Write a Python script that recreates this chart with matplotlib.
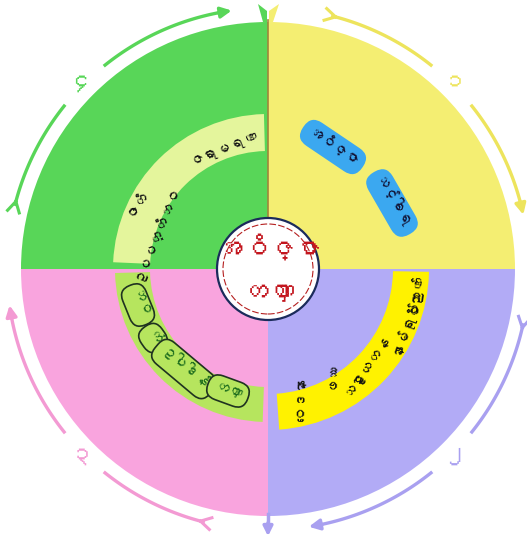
import numpy as np
import matplotlib
matplotlib.use("Agg")
import matplotlib.pyplot as plt
from matplotlib.patches import Wedge, Circle, Polygon
from matplotlib import font_manager
from matplotlib.ft2font import FT2Font

# ---------------- data ----------------
centre_words = ["အဝိဇ္ဇာ", "တဏှာ"]
section_digits = ["၁", "၂", "၃", "၄"]           # yellow, purple, pink, green
yellow_words = ["အဝိဇ္ဇာ", "သင်္ခါရ"]
purple_words = ["ဝိညာဏ်", "နာမ်ရုပ်", "သဠာယတန", "ဖဿ", "ဝေဒနာ"]
pink_words = ["ဘဝ", "ကံ", "ဥပါဒါန်", "တဏှာ"]
green_words = ["ဇရာမရဏ", "ဇာတိ", "ဥပပတ္တိဘဝ"]

# ---------------- font ----------------
def find_myanmar_font():
    for f in font_manager.fontManager.ttflist:
        try:
            if 0x1000 in FT2Font(f.fname).get_charmap():
                return f.name
        except Exception:
            pass
    return None

mm = find_myanmar_font()
FAM = [mm, "DejaVu Sans"] if mm else ["DejaVu Sans"]

W, H = 527, 540
fig = plt.figure(figsize=(W / 100, H / 100), dpi=100)
ax = fig.add_axes([0, 0, 1, 1])
ax.set_xlim(0, W)
ax.set_ylim(0, H)
ax.set_aspect("equal")
ax.axis("off")

def P(x, y):
    return (x, H - y)

C = P(268, 269)
R = 247

# quadrants
quad = [(0, 90, "#F4EE72"), (90, 180, "#58D658"), (180, 270, "#F9A4DE"), (270, 360, "#B2ABF6")]
for t1, t2, c in quad:
    ax.add_patch(Wedge(C, R, t1, t2, fc=c, ec="none", zorder=1))

# bands
ax.add_patch(Wedge(C, 155, 91.5, 177.5, width=37, fc="#E4F59C", ec="none", zorder=2))
ax.add_patch(Wedge(C, 161, 274, 359, width=36, fc="#FFF200", ec="none", zorder=2))
ax.add_patch(Wedge(C, 153, 181.5, 268, width=35, fc="#B6E55E", ec="none", zorder=2))

# divider line
ax.plot([C[0], C[0]], [C[1], H - 20], color="#A0863A", lw=1.2, zorder=3)
ax.plot([C[0], C[0]], [H - 514, H - 522], color="#A9A0F0", lw=2.5, zorder=3)
ax.annotate("", xy=P(268, 539), xytext=P(268, 520),
            arrowprops=dict(arrowstyle="-|>", color="#A9A0F0", lw=2.5, mutation_scale=14), zorder=3)
ax.add_patch(Polygon([P(258, 4), P(267, 11), P(267, 22), P(263, 22)], closed=True, fc="#58D658", ec="none", zorder=3))
ax.add_patch(Polygon([P(279, 4), P(269, 11), P(269, 22), P(273, 22)], closed=True, fc="#F4EE72", ec="none", zorder=3))

# outer arrow arcs (clockwise)
RA = 261
arcs = [  # tail angle, head angle, digit angle, colour, digit
    (76, 12, 45, "#EDE45C", section_digits[0]),
    (-12, -81, -45, "#A9A0F0", section_digits[1]),
    (-104, -172, -135, "#F39AD3", section_digits[2]),
    (166, 98, 135, "#58D658", section_digits[3]),
]

def pt(a, r=RA):
    t = np.deg2rad(a)
    return (C[0] + r * np.cos(t), C[1] + r * np.sin(t))

for tail, head, dig, col, txt in arcs:
    gap = 6
    seg1 = np.linspace(tail, dig + gap, 60)
    seg2 = np.linspace(dig - gap, head + 2, 60)
    for s in (seg1, seg2):
        xs = C[0] + RA * np.cos(np.deg2rad(s))
        ys = C[1] + RA * np.sin(np.deg2rad(s))
        ax.plot(xs, ys, color=col, lw=2.4, solid_capstyle="butt", zorder=3)
    ax.annotate("", xy=pt(head), xytext=pt(head + 3),
                arrowprops=dict(arrowstyle="-|>", color=col, lw=2.4, mutation_scale=16,
                                shrinkA=0, shrinkB=0), zorder=3)
    # fletching at tail
    tp = np.array(pt(tail - 1.0))
    for dr in (-6, 6):
        q = np.array(pt(tail + 1.3, RA + dr))
        ax.plot([tp[0], q[0]], [tp[1], q[1]], color=col, lw=2.2, zorder=3)
    dx, dy = pt(dig, RA + 3)
    ax.text(dx, dy, txt, family=FAM, fontsize=17, color=col, ha="center", va="center",
            rotation=0, zorder=4)

# centre circle
ax.add_patch(Circle(C, 51, fc="white", ec="#1B2B5B", lw=1.6, zorder=5))
ax.add_patch(Circle(C, 45, fc="none", ec="#B52020", lw=0.8, ls=(0, (6, 2)), zorder=5))
ax.text(*P(268, 247), centre_words[0], family=FAM, fontsize=19, color="#C3161E",
        ha="center", va="center", zorder=6)
ax.text(*P(268, 293), centre_words[1], family=FAM, fontsize=19, color="#C3161E",
        ha="center", va="center", zorder=6)

# yellow section pills
ypos = [(P(333, 147), -34), (P(392, 203), -60)]
for w, (xy, rot) in zip(yellow_words, ypos):
    ax.text(*xy, w, family=FAM, fontsize=10.5, color="#111133", ha="center", va="center",
            rotation=rot, rotation_mode="anchor", zorder=6,
            bbox=dict(boxstyle="round,pad=0.45,rounding_size=0.9", fc="#3BA8F0", ec="none"))

# purple section words on yellow band
ppos = [(P(411, 292), 82), (P(404, 327), 70), (P(366, 365), 55), (P(330, 374), 88), (P(302, 400), 88)]
for w, (xy, rot) in zip(purple_words, ppos):
    ax.text(*xy, w, family=FAM, fontsize=10.5, color="#111111", ha="center", va="center",
            rotation=rot, rotation_mode="anchor", zorder=6)

# pink section pills on green band
kpos = [(P(138, 305), -68), (P(153, 338), -55), (P(184, 369), -40), (P(228, 391), -20)]
for w, (xy, rot) in zip(pink_words, kpos):
    ax.text(*xy, w, family=FAM, fontsize=10.5, color="#1E6E1E", ha="center", va="center",
            rotation=rot, rotation_mode="anchor", zorder=6,
            bbox=dict(boxstyle="round,pad=0.45,rounding_size=0.8", fc="#B6E55E", ec="#1F3320", lw=1.2))

# green section words on light band
gpos = [(P(223, 148), 22), (P(137, 203), 55), (P(153, 232), 68)]
for w, (xy, rot) in zip(green_words, gpos):
    ax.text(*xy, w, family=FAM, fontsize=10.5, color="#111111", ha="center", va="center",
            rotation=rot, rotation_mode="anchor", zorder=6)

fig.savefig("out.png", dpi=100)
